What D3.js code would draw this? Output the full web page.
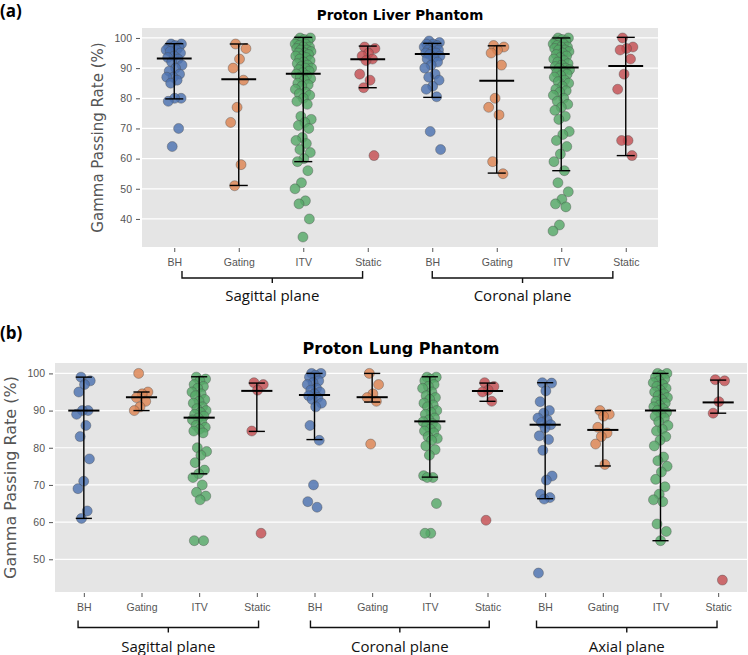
<!DOCTYPE html>
<meta charset="utf-8">
<title>Proton phantom gamma passing rates</title>
<style>
	body { margin: 0; background: #fff; }
	svg { display: block; font-family: "DejaVu Sans", sans-serif; }
	.tick text { fill: #555; font-size: 10.5px; }
	.tick line { stroke: #555; }
	.domain { display: none; }
	.ylab { fill: #555; }
	.title { font-weight: bold; fill: #000; }
	.plane { font-family: "Open Sans", sans-serif; font-size: 15px; fill: #111; }
	.tag { font-family: "Open Sans", sans-serif; font-weight: bold; font-size: 17px; }
	.bar { stroke: #000; fill: none; }
	.brace { stroke: #111; stroke-width: 1.4px; fill: none; }
</style>
<body>
<script src="https://d3js.org/d3.v7.min.js"></script>
<script>

var width = 748, height = 655;

var methods = ["BH", "Gating", "ITV", "Static"];
var colors = ["#4c72b0", "#dd8452", "#55a868", "#c44e52"];

// ---- (a) liver phantom ----
var liverPlanes = ["Sagittal plane", "Coronal plane"];
var liverSagBH = [98, 98, 97.5, 97, 97, 96.5, 96, 96, 95.5, 95, 94, 93.5, 93, 92, 91, 90, 89, 88, 87, 87, 86, 85, 80, 80, 79, 70, 64];
var liverSagGating = [98, 96.5, 93, 90, 86, 77, 72, 58, 51];
var liverSagITV = [100, 100, 99.5, 99, 99, 98.5, 98, 98, 97.5, 97, 97, 96.5, 96, 96, 95.5, 95, 95, 94.5, 94, 94, 93.5, 93, 92.5, 92, 91.5, 91, 90.5, 90, 90, 89.5, 89, 88.5, 88, 87.5, 87, 86.5, 86, 85, 84.5, 84, 83, 82, 81.5, 81, 80, 79, 78, 74, 73, 72, 71, 70, 67, 66, 65, 63, 62, 60, 59, 56, 52, 50, 46, 45, 40, 34];
var liverSagStatic = [97, 96.5, 95, 94, 93, 92.5, 88, 86, 83.5, 61];
var liverCorBH = [99, 98.5, 98, 98, 97.5, 97, 97, 96.5, 96, 96, 95.5, 95, 95, 94.5, 94, 93.5, 93, 92, 91, 90, 88, 87, 86, 84, 83, 80.5, 69, 63];
var liverCorGating = [97.5, 97, 96, 95, 91, 80, 77, 74.5, 59, 55];
var liverCorITV = [100, 100, 99.5, 99, 99, 98.5, 98, 98, 97.5, 97, 97, 96.5, 96, 96, 95.5, 95, 94.5, 94, 93.5, 93, 92.5, 92, 91.5, 91, 90.5, 90, 90, 89.5, 89, 88.5, 88, 87.5, 87, 86, 85.5, 85, 84, 83, 82.5, 82, 81, 80, 79, 78, 77, 76, 74, 73, 69, 68, 66, 64, 61.5, 59, 56, 52, 49, 46.5, 45, 44, 38, 36];
var liverCorStatic = [100, 97, 96.5, 96, 93, 88, 83, 66, 66, 61];
var liverMedian = [93.2, 86.3, 88.1, 92.9, 94.7, 85.8, 90.2, 90.7];
var liverLow = [79.8, 51.1, 59, 83.5, 80.3, 55.2, 56, 61];
var liverHigh = [98.1, 98, 100.2, 97.3, 98.2, 97.4, 100, 100.2];
var liverTicks = [40, 50, 60, 70, 80, 90, 100];

// ---- (b) lung phantom ----
var lungPlanes = ["Sagittal plane", "Coronal plane", "Axial plane"];
var lungSagBH = [99, 98, 97, 95, 90, 90, 89, 86, 83, 77, 71, 69, 63, 61];
var lungSagGating = [100, 95, 94.5, 93.5, 92.5, 91, 90];
var lungSagITV = [99, 98.5, 98, 97, 96.5, 96, 95, 94.5, 94, 93, 92.5, 92, 91, 90.5, 90, 89.5, 89, 88.5, 88, 87.5, 87, 86, 85.5, 85, 84.5, 84, 80, 79, 78, 76, 74, 73, 72, 70, 68, 67, 66, 55, 55];
var lungSagStatic = [97.5, 97, 95.5, 84.5, 57];
var lungCorBH = [100, 100, 99.5, 99, 98, 97.5, 97, 96, 95.5, 95, 94.5, 94, 93.5, 93, 92, 91, 86, 82, 70, 65.5, 64];
var lungCorGating = [100, 97, 94.5, 93.5, 92.5, 81];
var lungCorITV = [99, 99, 98.5, 98, 97, 96.5, 96, 95, 94, 93.5, 93, 92, 91.5, 91, 90, 89.5, 89, 88, 87.5, 87, 86.5, 86, 85.5, 85, 84.5, 84, 83, 82.5, 82, 80.5, 79.5, 78, 72.5, 72, 72, 65, 57, 57];
var lungCorStatic = [97.5, 96.5, 95.5, 95, 92.5, 60.5];
var lungAxBH = [97.5, 97.4, 95.3, 92.4, 90, 89.3, 88, 87.5, 86.8, 86.2, 85.3, 83.2, 82.2, 79.3, 72.4, 71.3, 67.5, 66.6, 66.2, 46.3];
var lungAxGating = [90, 89, 88.5, 85.5, 84, 83, 81, 75.5];
var lungAxITV = [100, 100, 99.5, 99, 98.5, 98, 97.5, 97, 96.5, 96, 95.5, 95, 94.5, 94, 93.5, 93, 92.5, 92, 91.5, 91, 90.5, 90, 89.5, 89, 88.5, 88, 87, 86, 85, 84.5, 83, 82, 80.5, 77.5, 76.5, 75, 73.5, 71.5, 69.5, 67.5, 66, 65.5, 59.5, 57.5, 55];
var lungAxStatic = [98.3, 98, 92.4, 89.3, 44.4];
var lungMedian = [90, 93.6, 88.1, 95.3, 94.2, 93.6, 87.1, 95.3, 86.2, 84.8, 90, 92.2];
var lungLow = [61, 90, 73, 84.4, 82.2, 92.3, 72.1, 92.5, 66.3, 75.1, 55, 89.3];
var lungHigh = [99, 95, 99.1, 97.4, 100, 100, 99.1, 97.4, 97.5, 90, 100, 98.2];
var lungTicks = [50, 60, 70, 80, 90, 100];

var svg = d3.select("body").append("svg")
	.attr("width", width)
	.attr("height", height);

drawPanel({
	tag: "(a)", tagY: 17,
	title: "Proton Liver Phantom", titleSize: 13.5, titleY: 20,
	left: 142, right: 658, top: 28, bottom: 247,
	yDomain: [30.7, 103.3], yTicks: liverTicks,
	groups: [liverSagBH, liverSagGating, liverSagITV, liverSagStatic, liverCorBH, liverCorGating, liverCorITV, liverCorStatic],
	median: liverMedian, low: liverLow, high: liverHigh,
	planes: liverPlanes,
	braceFrom: [0.12, 4.0], braceTo: [2.92, 6.8],
	ylabX: 103, ylabSize: 15, xPad: 6.5,
	braceY: 278, labelY: 301
});

drawPanel({
	tag: "(b)", tagY: 339,
	title: "Proton Lung Phantom", titleSize: 16, titleY: 354,
	left: 55, right: 747, top: 363, bottom: 592,
	yDomain: [41.2, 102.8], yTicks: lungTicks,
	groups: [lungSagBH, lungSagGating, lungSagITV, lungSagStatic, lungCorBH, lungCorGating, lungCorITV, lungCorStatic, lungAxBH, lungAxGating, lungAxITV, lungAxStatic],
	median: lungMedian, low: lungLow, high: lungHigh,
	planes: lungPlanes,
	braceFrom: [-0.1, 3.93, 7.85], braceTo: [3.03, 7.03, 10.98],
	ylabX: 15.5, ylabSize: 16, xPad: 7,
	braceY: 627.5, labelY: 651.5
});

function jitter(i) {
	// spread points across the strip, same each load
	return (((i * 0.618034 + 0.31) % 1) - 0.5) * 0.26;
}

function drawPanel(p) {
	var n = p.groups.length;
	var g = svg.append("g");

	var x = d3.scaleLinear().domain([-0.5, n - 0.5]).range([p.left, p.right]);
	var y = d3.scaleLinear().domain(p.yDomain).range([p.bottom, p.top]);

	g.append("rect")
		.attr("x", p.left).attr("y", p.top)
		.attr("width", p.right - p.left).attr("height", p.bottom - p.top)
		.attr("fill", "#e5e5e5");

	g.selectAll(".grid").data(p.yTicks).enter().append("line")
		.attr("class", "grid")
		.attr("x1", p.left).attr("x2", p.right)
		.attr("y1", function(d) { return y(d); })
		.attr("y2", function(d) { return y(d); })
		.attr("stroke", "#fff").attr("stroke-width", 1.2);

	g.append("g")
		.attr("transform", "translate(" + (p.left - 2) + ",0)")
		.call(d3.axisLeft(y).tickValues(p.yTicks).tickSize(4).tickPadding(4));

	g.append("g")
		.attr("transform", "translate(0," + (p.bottom + 1) + ")")
		.call(d3.axisBottom(x).tickValues(d3.range(n)).tickSize(4).tickPadding(p.xPad)
			.tickFormat(function(i) { return methods[i % 4]; }));

	// strip points
	p.groups.forEach(function(vals, k) {
		g.append("g").selectAll("circle").data(vals).enter().append("circle")
			.attr("cx", function(d, i) { return x(k + jitter(i)); })
			.attr("cy", function(d) { return y(d); })
			.attr("r", 5)
			.attr("fill", colors[k % 4])
			.attr("fill-opacity", 0.82)
			.attr("stroke", "#4a4a4a")
			.attr("stroke-opacity", 0.55)
			.attr("stroke-width", 0.7);
	});

	// median + range bars
	var bars = g.selectAll(".bars").data(d3.range(n)).enter().append("g");
	bars.append("line").attr("class", "bar").attr("stroke-width", 1.4)
		.attr("x1", function(k) { return x(k); }).attr("x2", function(k) { return x(k); })
		.attr("y1", function(k) { return y(p.low[k]); }).attr("y2", function(k) { return y(p.high[k]); });
	[p.low, p.high].forEach(function(arr) {
		bars.append("line").attr("class", "bar").attr("stroke-width", 1.4)
			.attr("x1", function(k) { return x(k - 0.14); }).attr("x2", function(k) { return x(k + 0.14); })
			.attr("y1", function(k) { return y(arr[k]); }).attr("y2", function(k) { return y(arr[k]); });
	});
	bars.append("line").attr("class", "bar").attr("stroke-width", 2)
		.attr("x1", function(k) { return x(k - 0.27); }).attr("x2", function(k) { return x(k + 0.27); })
		.attr("y1", function(k) { return y(p.median[k]); }).attr("y2", function(k) { return y(p.median[k]); });

	// titles and labels
	g.append("text").attr("class", "title")
		.attr("x", (p.left + p.right) / 2).attr("y", p.titleY)
		.attr("text-anchor", "middle").style("font-size", p.titleSize + "px")
		.text(p.title);

	g.append("text").attr("class", "ylab")
		.attr("transform", "translate(" + p.ylabX + "," + (p.top + p.bottom) / 2 + ") rotate(-90)")
		.attr("text-anchor", "middle").style("font-size", p.ylabSize + "px")
		.text("Gamma Passing Rate (%)");

	g.append("text").attr("class", "tag")
		.attr("x", 0).attr("y", p.tagY).text(p.tag);

	// plane braces under the tick labels
	p.planes.forEach(function(name, j) {
		var x0 = x(p.braceFrom[j]), x1 = x(p.braceTo[j]), xm = (x0 + x1) / 2, by = p.braceY;
		g.append("path").attr("class", "brace")
			.attr("d", "M" + x0 + "," + (by - 7) + "V" + by + "H" + x1 + "V" + (by - 7) +
				"M" + xm + "," + by + "V" + (by + 5));
		g.append("text").attr("class", "plane")
			.attr("x", xm).attr("y", p.labelY)
			.attr("text-anchor", "middle")
			.text(name);
	});
}

</script>
